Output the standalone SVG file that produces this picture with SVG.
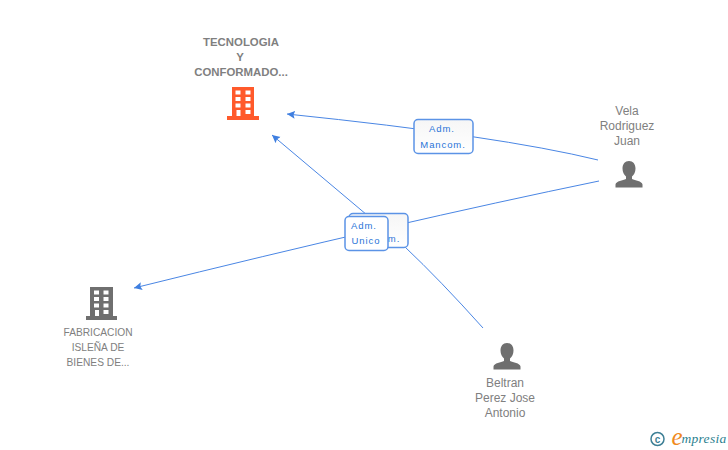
<svg xmlns="http://www.w3.org/2000/svg" width="728" height="450" viewBox="0 0 728 450">
<style>
text{font-family:"Liberation Sans",Arial,sans-serif;text-anchor:middle}
.n{font-size:12px;fill:#808080}
.f{font-size:10.2px;fill:#808080}
.t{font-size:11.4px;font-weight:bold;fill:#7f7f7f}
.e{fill:none;stroke:#4a86e4;stroke-width:1}
.b{fill:#fff;stroke:#5b93e6;stroke-width:1.5}
.l{font-size:9.5px;fill:#2a74d8;letter-spacing:.9px}
</style>
<defs>
<marker id="a" markerWidth="10" markerHeight="10" refX="8" refY="4" orient="auto" markerUnits="userSpaceOnUse"><path d="M8 4L0 0L1.500 4L0 8Z" fill="#3f7fe0"/></marker>
<linearGradient id="g" x1="0" y1="0" x2="0" y2="1"><stop offset="0" stop-color="#f6f6f6"/><stop offset="1" stop-color="#fff"/></linearGradient>
<symbol id="p" viewBox="0 0 28 28"><path d="M14 1c4 0 6.500 3 6.500 7.500c0 3.500-1.500 6.500-3.500 8v2.500c3 1.500 10 2 10.500 5.500v3H.5v-3c.5-3.500 7.500-4 10.500-5.500v-2.500c-2-1.500-3.500-4.500-3.500-8C7.500 4 10 1 14 1z" fill="#6f6f6f"/></symbol>
</defs>
<rect width="728" height="450" fill="#fff"/>
<g id="connectors">
<path class="e" d="M598 160Q500 136 287 114" marker-end="url(#a)"/>
<path class="e" d="M599 181Q400 222 134 288" marker-end="url(#a)"/>
<path class="e" d="M483 328Q440 280 405 247L272 135" marker-end="url(#a)"/>
</g>
<g id="node-tecnologia">
<text class="t" x="241" y="46">TECNOLOGIA</text><text class="t" x="240" y="61">Y</text><text class="t" x="241" y="76">CONFORMADO...</text>
<path fill="#ff5a2b" d="M232 87h22v29h5v4h-32v-4h5zM235.500 90.500v4h5v-4zM245.500 90.500v4h5v-4zM235.500 97v4h5v-4zM245.500 97v4h5v-4zM235.500 103.500v4h5v-4zM245.500 103.500v4h5v-4zM236.500 110v6h4v-6zM245.500 110v4h5v-4z" fill-rule="evenodd"/>
</g>
<g id="node-fabricacion">
<path fill="#6f6f6f" d="M90 287h23v29h4v4h-31v-4h4zM94 290.500v4h5v-4zM103.500 290.500v4h5v-4zM94 297v4h5v-4zM103.500 297v4h5v-4zM94 303.500v4h5v-4zM103.500 303.500v4h5v-4zM95 310v6h4v-6zM103.500 310v4h5v-4z" fill-rule="evenodd"/>
<text class="f" x="98" y="336">FABRICACION</text><text class="f" x="98" y="351">ISLEÑA DE</text><text class="f" x="98" y="366">BIENES DE...</text>
</g>
<g id="node-vela">
<text class="n" x="627" y="115">Vela</text><text class="n" x="627" y="130">Rodriguez</text><text class="n" x="627" y="145">Juan</text>
<use href="#p" x="615" y="160" width="28" height="28"/>
</g>
<g id="node-beltran">
<use href="#p" x="493" y="342" width="28" height="28"/>
<text class="n" x="505" y="387">Beltran</text><text class="n" x="505" y="402">Perez Jose</text><text class="n" x="505" y="417">Antonio</text>
</g>
<g id="edge-labels">
<rect class="b" x="414" y="119.500" width="59" height="34" rx="4" style="fill:url(#g)"/>
<text class="l" x="442" y="132">Adm.</text><text class="l" x="443" y="148">Mancom.</text>
<rect class="b" x="349" y="213.500" width="59" height="34" rx="4" style="fill:url(#g)"/>
<text class="l" x="394" y="242">m.</text>
<rect class="b" x="345" y="216.500" width="43" height="34" rx="4"/>
<text class="l" x="364" y="229">Adm.</text><text class="l" x="366" y="244">Unico</text>
</g>
<g id="logo">
<circle cx="657.500" cy="439" r="6.500" fill="none" stroke="#3d7f95" stroke-width="1.500"/>
<text x="657.500" y="442.500" style="font-size:10px;fill:#3d7f95;font-weight:bold">c</text>
<text x="677" y="445" style="font-size:25px;font-family:'Liberation Serif',serif;font-style:italic;fill:#f08a1d">e</text>
<text x="704" y="443" style="font-size:13.500px;font-family:'Liberation Serif',serif;font-style:italic;fill:#2b7f8f;letter-spacing:.3px">mpresia</text>
</g>
</svg>
